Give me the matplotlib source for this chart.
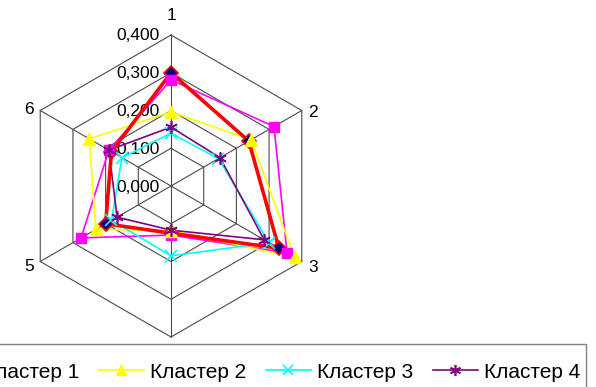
import numpy as np
import matplotlib.pyplot as plt
from matplotlib.patches import Rectangle

plt.rcParams['font.family'] = ['Liberation Sans', 'DejaVu Sans']

# Radar axes and values for each cluster
axes_labels = ['1', '2', '3', '4', '5', '6']
ticks = [0.0, 0.1, 0.2, 0.3, 0.4]
tick_labels = ['0,000', '0,100', '0,200', '0,300', '0,400']

series_names = ['Среднее', 'Кластер 1', 'Кластер 2', 'Кластер 3', 'Кластер 4']
avg = [0.300, 0.238, 0.330, 0.125, 0.200, 0.182]
cl1 = [0.281, 0.315, 0.355, 0.130, 0.275, 0.190]
cl2 = [0.196, 0.245, 0.378, 0.118, 0.230, 0.250]
cl3 = [0.140, 0.145, 0.300, 0.185, 0.182, 0.150]
cl4 = [0.156, 0.150, 0.285, 0.117, 0.165, 0.190]

# angle of each spoke, going clockwise from the top
angles = np.deg2rad(90 - 60 * np.arange(len(axes_labels)))


def to_xy(vals):
    v = np.asarray(vals + vals[:1])
    a = np.concatenate([angles, angles[:1]])
    return v * np.cos(a), v * np.sin(a)


fig = plt.figure(figsize=(5.96, 3.87), dpi=100)
ax = fig.add_axes([0, 0, 1, 1])
scale = 151 / 0.4  # pixels per unit
ax.set_xlim(-171 / scale, (596 - 171) / scale)
ax.set_ylim(-(387 - 186) / scale, 186 / scale)
ax.axis('off')

# hexagonal grid and spokes
grid_col = '#4a4a4a'
for t in ticks[1:]:
    gx, gy = to_xy([t] * 6)
    ax.plot(gx, gy, color=grid_col, lw=0.8, zorder=1)
for a in angles:
    ax.plot([0, ticks[-1] * np.cos(a)], [0, ticks[-1] * np.sin(a)],
            color=grid_col, lw=0.8, zorder=1)

for t, lab in zip(ticks, tick_labels):
    ax.text(-11 / scale, t - 1 / scale, lab, ha='right', va='center',
            fontsize=12.5, zorder=2)

# spoke labels
r_lab = ticks[-1]
offsets = [(0, 19, 'center'), (6, -2, 'left'), (7, -6, 'left'),
           (0, -17, 'center'), (-6, -5, 'right'), (-6, 1, 'right')]
for a, lab, (ox, oy, ha) in zip(angles, axes_labels, offsets):
    ax.text(r_lab * np.cos(a) + ox / scale, r_lab * np.sin(a) + oy / scale, lab,
            ha=ha, va='center', fontsize=12.5, zorder=2)

styles = [
    dict(color='#ff0000', lw=2.6, marker='D', ms=7, mfc='#000080', mec='#ff0000', mew=1.2, zorder=8),
    dict(color='#ff00ff', lw=1.2, marker='s', ms=7, mfc='#ff00ff', mec='#ff00ff', zorder=4),
    dict(color='#ffff00', lw=1.2, marker='^', ms=8, mfc='#ffff00', mec='#ffff00', zorder=5),
    dict(color='#00ffff', lw=1.2, marker='x', ms=8, mfc='#00ffff', mec='#00ffff', mew=1.2, zorder=6),
    dict(color='#800080', lw=1.2, marker=(6, 2, 0), ms=9, mfc='#800080', mec='#800080', mew=1.2, zorder=7),
]

handles = []
for name, vals, st in zip(series_names, [avg, cl1, cl2, cl3, cl4], styles):
    sx, sy = to_xy(vals)
    st = dict(st)
    z = st.pop('zorder')
    ax.plot(sx, sy, color=st['color'], lw=st['lw'], zorder=z)
    ax.plot(sx[:-1], sy[:-1], ls='none', marker=st['marker'], ms=st['ms'],
            mfc=st['mfc'], mec=st['mec'], mew=st.get('mew', 1), zorder=10)
    leg_st = dict(st, lw=1.2, ms=st['ms'] - 1)
    h, = ax.plot([], [], label=name, **leg_st)
    handles.append(h)

# legend box, running past the left edge of the figure
fig.patches.append(Rectangle((-20 / 596, -0.1), (586 + 20) / 596, 0.1 + 1 - 344 / 387,
                             transform=fig.transFigure, facecolor='white',
                             edgecolor='#808080', lw=1.0, zorder=5))

leg = fig.legend(handles=handles, loc='center right', ncol=5,
                 bbox_to_anchor=(580 / 596, 1 - 372 / 387), borderaxespad=0,
                 fontsize=15, handlelength=2.15, handletextpad=0.29,
                 columnspacing=0.96, borderpad=0, frameon=False)
leg.set_zorder(20)

fig.savefig('out.png', dpi=100)
